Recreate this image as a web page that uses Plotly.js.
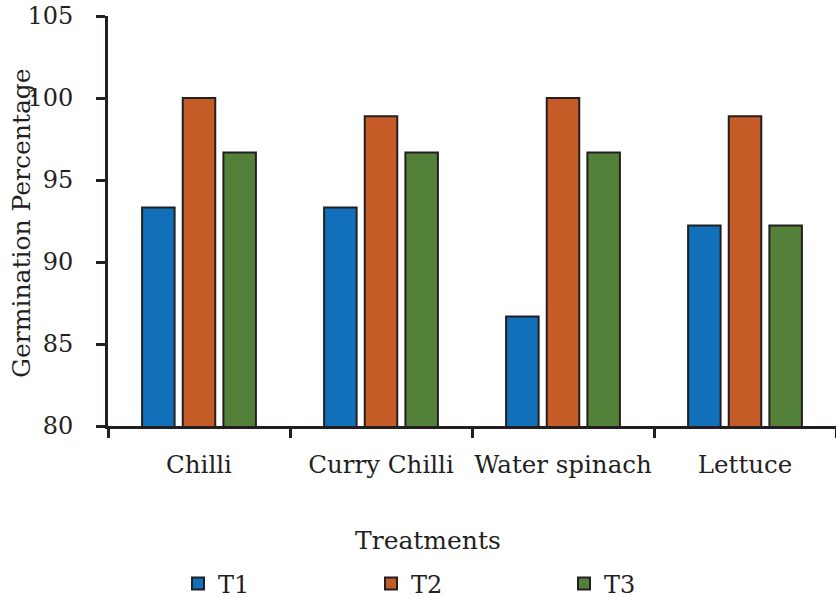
<!DOCTYPE html>
<html><head><meta charset="utf-8">
<script src="https://cdn.plot.ly/plotly-3.0.1.min.js"></script>
<style>html,body{margin:0;padding:0;background:#fff}#c{width:836px;height:599px}</style>
</head><body><div id="c"></div>
<script>
const categories = ["Chilli", "Curry Chilli", "Water spinach", "Lettuce"];
const seriesNames = ["T1", "T2", "T3"];
const t1 = [93.33, 93.33, 86.67, 92.22];
const t2 = [100, 98.89, 100, 98.89];
const t3 = [96.67, 96.67, 96.67, 92.22];
const colors = ["#1170B9", "#C55B27", "#548139"];
const yTicks = [80, 85, 90, 95, 100, 105];
const xTitle = "Treatments";
const yTitle = "Germination Percentage";

const values = [t1, t2, t3];
const traces = values.map((v, i) => ({
  type: "bar", name: seriesNames[i], x: categories, y: v,
  marker: {color: colors[i], line: {color: "#231f20", width: 2}}
}));
const font = "DejaVu Serif, serif";
Plotly.newPlot("c", traces, {
  width: 836, height: 599,
  margin: {l: 108, r: 0, t: 16, b: 173, autoexpand: false},
  barmode: "group", bargap: 0.33, bargroupgap: 0.2,
  paper_bgcolor: "#fff", plot_bgcolor: "#fff",
  font: {family: font, size: 24, color: "#231f20"},
  xaxis: {
    automargin: false, tickangle: 0,
    showline: true, linecolor: "#231f20", linewidth: 3,
    ticks: "outside", tickson: "boundaries", ticklen: 9, tickwidth: 3, tickcolor: "#231f20",
    showgrid: false, zeroline: false,
    tickfont: {size: 24.5}, ticklabelstandoff: 15
  },
  yaxis: {
    automargin: false,
    range: [80, 105], tickvals: yTicks, ticktext: yTicks.map(String),
    showline: true, linecolor: "#231f20", linewidth: 3,
    ticks: "outside", ticklen: 9, tickwidth: 3, tickcolor: "#231f20",
    showgrid: false, zeroline: false,
    tickfont: {size: 24}, ticklabelstandoff: 18
  },
  annotations: [
    {text: xTitle, xref: "paper", yref: "paper", x: (428 - 108) / 728, y: -(540 - 426) / 410,
     xanchor: "center", yanchor: "middle", showarrow: false, font: {size: 25}},
    {text: yTitle, xref: "paper", yref: "paper", x: (21 - 108) / 728, y: (426 - 223) / 410,
     xanchor: "center", yanchor: "middle", textangle: -90, showarrow: false, font: {size: 25}}
  ],
  legend: {orientation: "h", x: (178 - 108) / 728, xanchor: "left", y: -0.33, yanchor: "top",
    font: {size: 24}, entrywidth: 148, itemwidth: 30},
  showlegend: true
}, {displayModeBar: false});
</script></body></html>
